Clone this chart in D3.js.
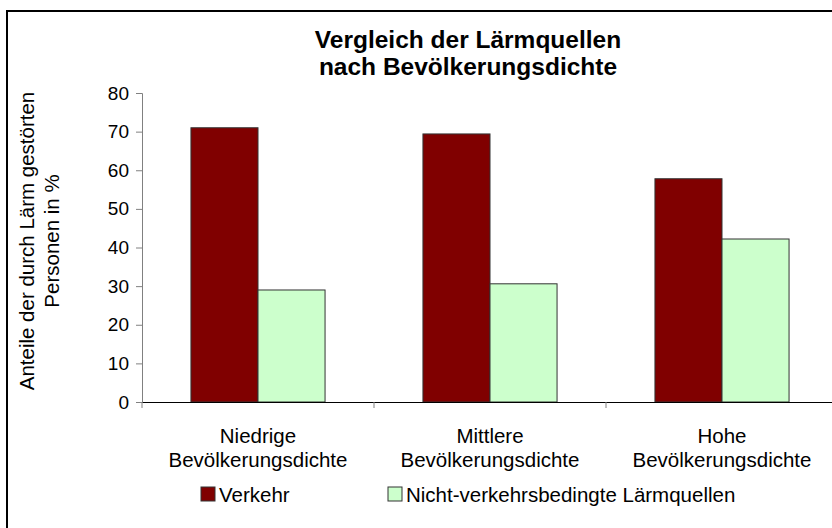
<!DOCTYPE html>
<html>
<head>
<meta charset="utf-8">
<script src="https://cdn.jsdelivr.net/npm/d3@7"></script>
<style>
  body { margin: 0; background: #fff; }
  svg text { font-family: Arial, "Liberation Sans", sans-serif; fill: #000; }
</style>
</head>
<body>
<div id="viz"></div>
<script>
  // Vergleich der Lärmquellen nach Bevölkerungsdichte
  const categories = [
    ['Niedrige', 'Bevölkerungsdichte'],
    ['Mittlere', 'Bevölkerungsdichte'],
    ['Hohe', 'Bevölkerungsdichte']
  ];
  const seriesNames = ['Verkehr', 'Nicht-verkehrsbedingte Lärmquellen'];
  const verkehr = [71.0, 69.4, 57.8];
  const nichtVerkehr = [29.0, 30.6, 42.2];
  const yTicks = [0, 10, 20, 30, 40, 50, 60, 70, 80];
  const colors = ['#800000', '#ccffcc'];

  const width = 832, height = 528;
  const margin = { left: 142, right: -6, top: 93, bottom: 126 };

  const svg = d3.select('#viz')
    .append('svg')
    .attr('width', width)
    .attr('height', height);

  // outer frame (runs off the right and bottom edge)
  svg.append('rect')
    .attr('x', 7).attr('y', 11)
    .attr('width', 900).attr('height', 600)
    .attr('fill', 'none')
    .attr('stroke', '#000')
    .attr('stroke-width', 2);

  const x0 = d3.scaleBand()
    .domain(d3.range(categories.length))
    .range([margin.left, width - margin.right])
    .paddingInner(0).paddingOuter(0);

  const x1 = d3.scaleBand()
    .domain([0, 1])
    .range([0, x0.bandwidth()])
    .paddingOuter(0.73).paddingInner(0);

  const y = d3.scaleLinear()
    .domain([0, 80])
    .range([height - margin.bottom, margin.top]);

  // title
  svg.append('text')
    .attr('x', 468).attr('y', 48)
    .attr('text-anchor', 'middle')
    .style('font-size', '24.5px').style('font-weight', 'bold')
    .selectAll('tspan')
    .data(['Vergleich der Lärmquellen', 'nach Bevölkerungsdichte'])
    .enter().append('tspan')
    .attr('x', 468)
    .attr('dy', (d, i) => i ? 27 : 0)
    .text(d => d);

  // bars
  const groups = svg.selectAll('g.cat')
    .data(categories.map((c, i) => [verkehr[i], nichtVerkehr[i]]))
    .enter().append('g')
    .attr('class', 'cat')
    .attr('transform', (d, i) => 'translate(' + x0(i) + ',0)');

  groups.selectAll('rect')
    .data(d => d)
    .enter().append('rect')
    .attr('x', (d, i) => x1(i))
    .attr('width', x1.bandwidth())
    .attr('y', d => y(d))
    .attr('height', d => y(0) - y(d))
    .attr('fill', (d, i) => colors[i])
    .attr('stroke', '#333')
    .attr('stroke-width', 1);

  // y axis
  const yAxis = svg.append('g')
    .attr('transform', 'translate(' + margin.left + ',0)')
    .call(d3.axisLeft(y).tickValues(yTicks).tickSize(6).tickPadding(7));
  yAxis.select('.domain').attr('stroke', '#808080');
  yAxis.selectAll('.tick line').attr('stroke', '#808080');
  yAxis.selectAll('.tick text').style('font-size', '19px').attr('fill', '#000');

  // x axis
  const xAxis = svg.append('g')
    .attr('transform', 'translate(0,' + y(0) + ')')
    .call(d3.axisBottom(x0).tickValues([]).tickSizeOuter(0));
  xAxis.select('.domain').attr('stroke', '#000');
  xAxis.selectAll('line.sep')
    .data(d3.range(categories.length))
    .enter().append('line')
    .attr('class', 'sep')
    .attr('x1', i => x0(i)).attr('x2', i => x0(i))
    .attr('y1', 0).attr('y2', 6)
    .attr('stroke', '#808080');

  const catLabels = svg.selectAll('text.cat')
    .data(categories)
    .enter().append('text')
    .attr('class', 'cat')
    .attr('text-anchor', 'middle')
    .style('font-size', '20.5px')
    .attr('y', 443);
  catLabels.selectAll('tspan')
    .data((d, i) => d.map(t => ({ t: t, i: i })))
    .enter().append('tspan')
    .attr('x', d => x0(d.i) + x0.bandwidth() / 2)
    .attr('dy', (d, j) => j ? 24 : 0)
    .text(d => d.t);

  // y axis title
  svg.append('text')
    .attr('transform', 'translate(34,241) rotate(-90)')
    .attr('text-anchor', 'middle')
    .style('font-size', '20.5px')
    .selectAll('tspan')
    .data(['Anteile der durch Lärm gestörten', 'Personen in %'])
    .enter().append('tspan')
    .attr('x', 0)
    .attr('dy', (d, i) => i ? 25 : 0)
    .text(d => d);

  // legend
  const legendX = [201, 388];
  const legend = svg.selectAll('g.leg')
    .data(seriesNames)
    .enter().append('g')
    .attr('class', 'leg')
    .attr('transform', (d, i) => 'translate(' + legendX[i] + ',487)');
  legend.append('rect')
    .attr('width', 14).attr('height', 14)
    .attr('fill', (d, i) => colors[i])
    .attr('stroke', '#333');
  legend.append('text')
    .attr('x', 18).attr('y', 14.5)
    .style('font-size', '20.5px')
    .text(d => d);
</script>
</body>
</html>
